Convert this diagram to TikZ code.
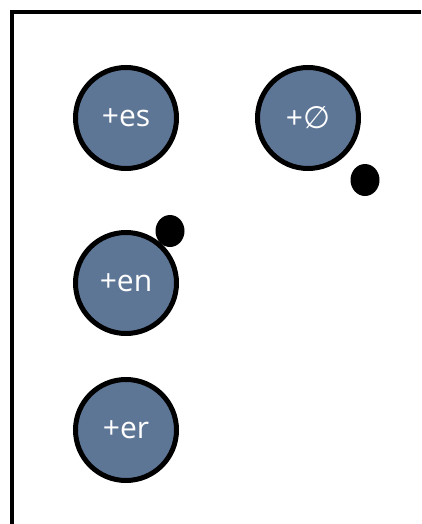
\documentclass[tikz,border=0pt]{standalone}
\usepackage{fontspec}
\usetikzlibrary{shapes.geometric}
\setmainfont{Open Sans}
\newfontfamily\symfnt{DejaVu Sans}
\definecolor{slate}{RGB}{94,118,150}
\begin{document}
\begin{tikzpicture}[x=1pt,y=-1pt,
  morph/.style={circle,draw=black,line width=5pt,fill=slate,minimum size=101pt,inner sep=0pt,text=white,font=\fontsize{30}{34}\selectfont},
  blob/.style={ellipse,fill=black,minimum width=29pt,minimum height=32pt,inner sep=0pt}]
\useasboundingbox (0,0) rectangle (421,524);
\draw[line width=4.5pt] (12,524) -- (12,12) -- (421,12);
\node[morph] (es) at (126,118) {+es};
\node[morph] (zero) at (308,118) {+{\symfnt\fontsize{31}{34}\selectfont ∅}};
\node[morph] (en) at (126,283) {+en};
\node[morph] (er) at (126,430) {+er};
\node[blob] (d1) at (365,180) {};
\node[blob] (d2) at (170,231) {};
\end{tikzpicture}
\end{document}
